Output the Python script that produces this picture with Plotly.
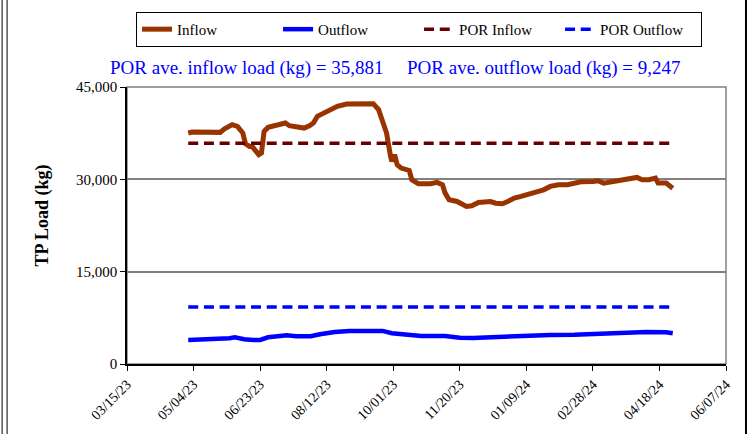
import plotly.graph_objects as go

inflow_dates = ["2023-04-30","2023-05-03","2023-05-24","2023-05-27","2023-06-02","2023-06-06","2023-06-10","2023-06-12",
                "2023-06-15","2023-06-17","2023-06-20","2023-06-22","2023-06-24","2023-06-26","2023-06-29","2023-07-04",
                "2023-07-12","2023-07-15","2023-07-19","2023-07-26","2023-07-30","2023-08-02","2023-08-05","2023-08-13",
                "2023-08-20","2023-08-27","2023-09-03","2023-09-16","2023-09-20","2023-09-23","2023-09-26","2023-09-29",
                "2023-09-30","2023-10-02","2023-10-04","2023-10-07","2023-10-13","2023-10-15","2023-10-20","2023-10-29",
                "2023-11-03","2023-11-07","2023-11-09","2023-11-12","2023-11-18","2023-11-25","2023-11-29","2023-12-04",
                "2023-12-10","2023-12-13","2023-12-17","2023-12-22","2023-12-26","2023-12-31","2024-01-05","2024-01-11",
                "2024-01-18","2024-01-22","2024-01-27","2024-02-02","2024-02-09","2024-02-14","2024-02-19","2024-02-28",
                "2024-03-03","2024-03-07","2024-03-10","2024-03-18","2024-03-25","2024-04-01","2024-04-05","2024-04-10",
                "2024-04-15","2024-04-17","2024-04-23","2024-04-25","2024-04-28"]
inflow_kg = [37520, 37680, 37630, 38170, 38880, 38600, 37520, 35790,
             35350, 35350, 34540, 34000, 34270, 37790, 38440, 38710,
             39150, 38710, 38600, 38330, 38710, 39150, 40230, 41040,
             41860, 42240, 42290, 42290, 41320, 39690, 37520, 33730,
             32910, 34000, 32370, 31830, 31450, 29930, 29280, 29280,
             29500, 29120, 27760, 26680, 26400, 25590, 25700, 26240,
             26400, 26400, 26130, 26030, 26400, 26950, 27220, 27600,
             28030, 28300, 28850, 29120, 29120, 29390, 29600, 29660,
             29770, 29390, 29500, 29930, 30040, 30310, 29930, 29930,
             30200, 29390, 29390, 29120, 28570]

outflow_dates = ["2023-04-30","2023-05-24","2023-05-31","2023-06-04","2023-06-11","2023-06-18","2023-06-23","2023-06-29",
                 "2023-07-04","2023-07-13","2023-07-20","2023-07-31","2023-08-07","2023-08-18","2023-08-29","2023-09-09",
                 "2023-09-23","2023-09-30","2023-10-13","2023-10-22","2023-11-09","2023-11-20","2023-11-30","2023-12-11",
                 "2023-12-26","2024-01-09","2024-01-27","2024-02-14","2024-03-03","2024-03-21","2024-04-08","2024-04-23",
                 "2024-04-28"]
outflow_kg = [3900, 4010, 4180, 4340, 4010, 3900, 3900, 4340,
              4450, 4660, 4500, 4500, 4830, 5200, 5370, 5420,
              5370, 4990, 4830, 4550, 4550, 4280, 4230, 4340,
              4390, 4500, 4720, 4770, 4930, 5150, 5200, 5150,
              4990]

por_dates = ["2023-04-30", "2024-04-28"]
por_inflow_kg = 35881
por_outflow_kg = 9247

tick_dates = ["2023-03-15","2023-05-04","2023-06-23","2023-08-12","2023-10-01",
              "2023-11-20","2024-01-09","2024-02-28","2024-04-18","2024-06-07"]
tick_labels = ["03/15/23","05/04/23","06/23/23","08/12/23","10/01/23",
               "11/20/23","01/09/24","02/28/24","04/18/24","06/07/24"]
y_ticks = [0, 15000, 30000, 45000]

FONT = "Liberation Serif, Times New Roman, serif"

# plot-area geometry in pixels
W, H = 751, 434
L, R, T, B = 127, 24.5, 87.3, 70
PW = W - L - R
PH = H - T - B

def px_x(p):
    return (p - L) / PW

def px_y(p):
    return (H - B - p) / PH

fig = go.Figure()
fig.add_trace(go.Scatter(x=inflow_dates, y=inflow_kg, mode="lines", name="Inflow",
                         line=dict(color="#993300", width=5)))
fig.add_trace(go.Scatter(x=outflow_dates, y=outflow_kg, mode="lines", name="Outflow",
                         line=dict(color="#0000FF", width=4.5)))
fig.add_trace(go.Scatter(x=por_dates, y=[por_inflow_kg] * len(por_dates), mode="lines", name="POR Inflow",
                         line=dict(color="#660000", width=3.5, dash="10px,5.7px")))
fig.add_trace(go.Scatter(x=por_dates, y=[por_outflow_kg] * len(por_dates), mode="lines", name="POR Outflow",
                         line=dict(color="#0000FF", width=3.5, dash="10px,5.7px")))

shapes = [
    # plot-area frame (gray)
    dict(type="rect", xref="paper", yref="paper", x0=0, x1=1, y0=0, y1=1,
         line=dict(color="#808080", width=1.5), layer="below"),
    # outer figure borders
    dict(type="line", xref="paper", yref="paper", x0=px_x(2), x1=px_x(2), y0=px_y(H), y1=px_y(0),
         line=dict(color="black", width=1)),
    dict(type="line", xref="paper", yref="paper", x0=px_x(7), x1=px_x(7), y0=px_y(H), y1=px_y(0),
         line=dict(color="black", width=1)),
    dict(type="line", xref="paper", yref="paper", x0=px_x(746.5), x1=px_x(746.5), y0=px_y(H), y1=px_y(0),
         line=dict(color="black", width=2)),
]

annotations = [
    dict(text="POR ave. inflow load (kg) = 35,881", xref="paper", yref="paper",
         x=px_x(246.6), y=px_y(68.3), xanchor="center", yanchor="middle", showarrow=False,
         font=dict(family=FONT, size=19, color="#0000FF")),
    dict(text="POR ave. outflow load (kg) = 9,247", xref="paper", yref="paper",
         x=px_x(544), y=px_y(68.3), xanchor="center", yanchor="middle", showarrow=False,
         font=dict(family=FONT, size=19, color="#0000FF")),
    dict(text="<b>TP Load (kg)</b>", xref="paper", yref="paper",
         x=px_x(42.5), y=px_y(216), xanchor="center", yanchor="middle", showarrow=False,
         textangle=-90, font=dict(family=FONT, size=18, color="black")),
]

fig.update_layout(
    width=W, height=H,
    margin=dict(l=L, r=R, t=T, b=B, pad=0, autoexpand=False),
    paper_bgcolor="white", plot_bgcolor="white",
    font=dict(family=FONT, color="black"),
    showlegend=True,
    legend=dict(orientation="h", x=px_x(419.3), xanchor="center", y=px_y(12.3), yanchor="top",
                bordercolor="black", borderwidth=1, bgcolor="white",
                font=dict(family=FONT, size=15, color="black"),
                entrywidth=96, entrywidthmode="pixels", itemwidth=30),
    shapes=shapes,
    annotations=annotations,
    xaxis=dict(type="date", range=[tick_dates[0], tick_dates[-1]],
               tickvals=tick_dates, ticktext=tick_labels, tickangle=-45,
               tickfont=dict(family=FONT, size=14, color="black"),
               showline=True, linecolor="black", linewidth=1.5,
               ticks="outside", ticklen=5, tickcolor="black", tickwidth=1,
               showgrid=False, zeroline=False),
    yaxis=dict(range=[0, 45000], tickvals=y_ticks, tickformat=",",
               tickfont=dict(family=FONT, size=15, color="black"),
               showline=True, linecolor="black", linewidth=1.5,
               ticks="outside", ticklen=5, tickcolor="black", tickwidth=1,
               showgrid=True, gridcolor="#808080", gridwidth=1.5, zeroline=False),
)

fig.write_html("out.html", config={"displayModeBar": False},
               post_script="document.body.style.margin='0';document.body.style.padding='0';")
